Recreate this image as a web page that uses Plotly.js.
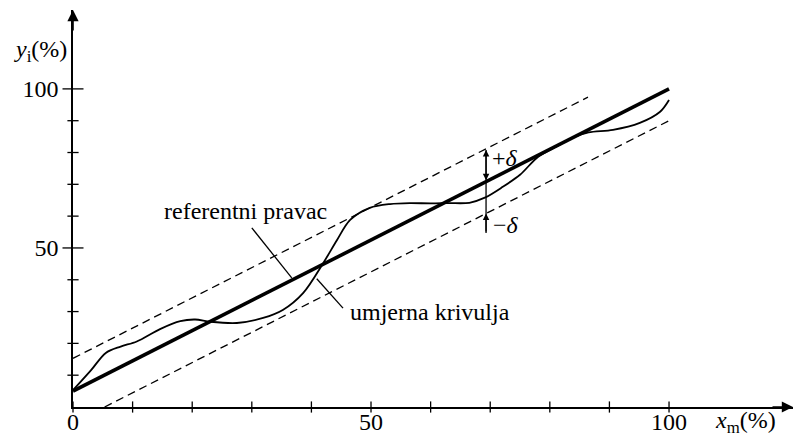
<!DOCTYPE html>
<html>
<head>
<meta charset="utf-8">
<script src="https://cdn.plot.ly/plotly-3.0.1.min.js"></script>
<style>html,body{margin:0;padding:0;background:#fff;}#chart{width:795px;height:440px;}</style>
</head>
<body>
<div id="chart"></div>
<script>
// reference straight line (referentni pravac)
const refX = [0, 100];
const refY = [5, 100];
// tolerance band +delta / -delta (dashed)
const upperX = [0, 86.4];
const upperY = [15.3, 97.4];
const lowerX = [5.3, 100];
const lowerY = [0, 90];
// measured curve (umjerna krivulja)
const curveX = [0, 3, 5.5, 8, 10.7, 14.6, 18, 20.5, 23, 27.5, 31.9, 35.2, 38.6, 42, 44.3, 46.5, 49.8, 53.2, 56.5, 60, 63, 66.5, 69.1, 72.1, 75, 78, 81, 84, 86.5, 90.6, 95.1, 98.5, 100];
const curveY = [5.3, 11.5, 17, 19, 20.6, 24.5, 27, 27.5, 26.8, 26.4, 28, 30.5, 35.8, 45.3, 52.5, 58.8, 62.6, 63.8, 64.1, 64, 64.1, 64.2, 65.8, 69.2, 73, 78.6, 81.8, 84.8, 86.3, 87.1, 89.3, 92.8, 96.5];
// leader lines for labels
const lead1X = [30.0, 36.7];
const lead1Y = [56.3, 40.6];
const lead2X = [40.9, 45.3];
const lead2Y = [40.3, 31.1];
// delta marker
const deltaX = [69.3, 69.3];
const deltaY = [54.7, 80.8];
const deltaRef = 70.8;
const deltaUp = 80.8;
const deltaLow = 60.8;
// ticks
const xTicks = [0, 10, 20, 30, 40, 50, 60, 70, 80, 90, 100];
const xLabelVals = [0, 50, 100];
const xLabelText = ['0', '50', '100'];
const yMajor = [50, 100];
const yMajorText = ['50', '100'];
const yMinor = [10, 20, 30, 40, 60, 70, 80, 90];

const FONT = "'Liberation Serif', 'DejaVu Serif', serif";
const FS = 24;
const K = '#000';

const traces = [
  {x: upperX, y: upperY, mode: 'lines', line: {color: K, width: 1.3, dash: '8px,5px'}, hoverinfo: 'skip'},
  {x: lowerX, y: lowerY, mode: 'lines', line: {color: K, width: 1.3, dash: '8px,5px'}, hoverinfo: 'skip'},
  {x: refX, y: refY, mode: 'lines', line: {color: K, width: 3.6}, hoverinfo: 'skip'},
  {x: curveX, y: curveY, mode: 'lines', line: {color: K, width: 1.8, shape: 'spline', smoothing: 0.9}, hoverinfo: 'skip'},
  {x: lead1X, y: lead1Y, mode: 'lines', line: {color: K, width: 1.3}, hoverinfo: 'skip'},
  {x: lead2X, y: lead2Y, mode: 'lines', line: {color: K, width: 1.3}, hoverinfo: 'skip'},
  {x: deltaX, y: deltaY, mode: 'lines', line: {color: K, width: 1.3}, hoverinfo: 'skip'},
  // tick marks crossing the axes
  {x: xTicks, y: xTicks.map(() => 0), mode: 'markers', cliponaxis: false,
   marker: {symbol: 'line-ns-open', size: 8, color: K, line: {color: K, width: 1.3}}, hoverinfo: 'skip'},
  {x: yMinor.map(() => 0), y: yMinor, mode: 'markers', cliponaxis: false,
   marker: {symbol: 'line-ew-open', size: 8, color: K, line: {color: K, width: 1.3}}, hoverinfo: 'skip'},
  {x: yMajor.map(() => 0), y: yMajor, mode: 'markers', cliponaxis: false,
   marker: {symbol: 'line-ew-open', size: 15, color: K, line: {color: K, width: 1.3}}, hoverinfo: 'skip'}
];

const XMAX = 120.8, YMAX = 124.8;

const layout = {
  width: 795, height: 440,
  margin: {l: 73, r: 2, t: 10, b: 33},
  paper_bgcolor: '#fff', plot_bgcolor: '#fff',
  showlegend: false,
  font: {family: FONT, size: FS, color: K},
  xaxis: {
    range: [0, XMAX], showgrid: false, zeroline: false,
    showline: true, linecolor: K, linewidth: 1.6,
    tickmode: 'array', tickvals: xLabelVals, ticktext: xLabelText,
    ticks: '', ticklabelstandoff: -7,
    tickfont: {family: FONT, size: FS, color: K}, fixedrange: true
  },
  yaxis: {
    range: [0, YMAX], showgrid: false, zeroline: false,
    showline: true, linecolor: K, linewidth: 1.6,
    tickmode: 'array', tickvals: yMajor, ticktext: yMajorText,
    ticks: '', ticklabelstandoff: 8,
    tickfont: {family: FONT, size: FS, color: K}, fixedrange: true
  },
  annotations: [
    // axis arrows
    {xref: 'paper', yref: 'paper', x: 0, y: 1, ax: 0, ay: 22, text: '', showarrow: true, arrowhead: 2, arrowsize: 1.4, arrowwidth: 1.6, arrowcolor: K},
    {xref: 'paper', yref: 'paper', x: 1, y: 0, ax: -22, ay: 0, text: '', showarrow: true, arrowhead: 2, arrowsize: 1.4, arrowwidth: 1.6, arrowcolor: K},
    // axis titles
    {xref: 'paper', yref: 'paper', x: -0.085, y: 0.94, text: '<i>y</i><sub>i</sub>(%)', showarrow: false, font: {family: FONT, size: FS, color: K}},
    {xref: 'paper', yref: 'paper', x: 0.979, y: -0.08, text: '<i>x</i><sub>m</sub>(%)', showarrow: false, font: {family: FONT, size: FS, color: K}},
    // labels
    {xref: 'x', yref: 'y', x: 28.9, y: 61.6, text: 'referentni pravac', showarrow: false, font: {family: FONT, size: FS, color: K}},
    {xref: 'x', yref: 'y', x: 59.9, y: 29.9, text: 'umjerna krivulja', showarrow: false, font: {family: FONT, size: FS, color: K}},
    // delta arrows
    {xref: 'x', yref: 'y', axref: 'x', ayref: 'y', x: deltaX[0], y: deltaUp, ax: deltaX[0], ay: deltaRef, text: '', showarrow: true, arrowhead: 2, startarrowhead: 2, arrowside: 'end+start', arrowsize: 1, arrowwidth: 1.3, arrowcolor: K},
    {xref: 'x', yref: 'y', axref: 'x', ayref: 'y', x: deltaX[0], y: deltaLow, ax: deltaX[0], ay: deltaY[0], text: '', showarrow: true, arrowhead: 2, arrowsize: 1, arrowwidth: 1.3, arrowcolor: K},
    {xref: 'x', yref: 'y', x: 72.5, y: 78.3, text: '+<i>δ</i>', showarrow: false, font: {family: FONT, size: FS, color: K}},
    {xref: 'x', yref: 'y', x: 72.6, y: 57.2, text: '−<i>δ</i>', showarrow: false, font: {family: FONT, size: FS, color: K}}
  ]
};

Plotly.newPlot('chart', traces, layout, {displayModeBar: false, staticPlot: true});
</script>
</body>
</html>
